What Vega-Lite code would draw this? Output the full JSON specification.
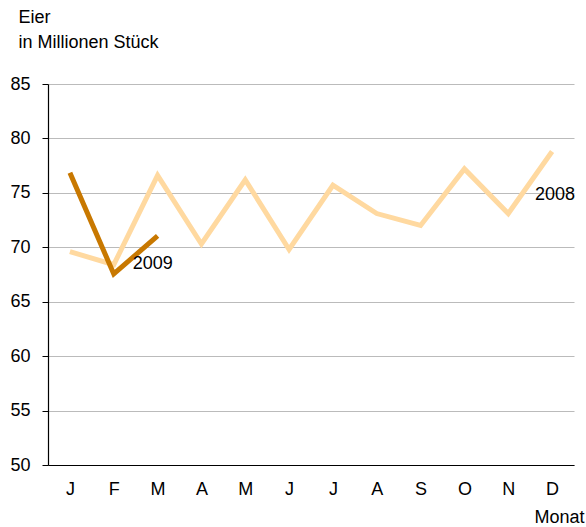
{
  "$schema": "https://vega.github.io/schema/vega-lite/v6.json",
  "width": 526,
  "height": 381,
  "autosize": {"type": "none"},
  "padding": {"left": 48, "top": 84, "right": 12, "bottom": 62},
  "background": "white",
  "config": {
    "view": {"stroke": null},
    "font": "Liberation Sans",
    "axis": {"labelFont": "Liberation Sans", "titleFont": "Liberation Sans", "labelColor": "black", "titleColor": "black", "labelFontSize": 18, "titleFontSize": 18, "titleFontWeight": "normal"}
  },
  "datasets": {
    "series": [
      {"month": 1, "value": 69.6, "year": "2008"},
      {"month": 2, "value": 68.4, "year": "2008"},
      {"month": 3, "value": 76.6, "year": "2008"},
      {"month": 4, "value": 70.3, "year": "2008"},
      {"month": 5, "value": 76.2, "year": "2008"},
      {"month": 6, "value": 69.8, "year": "2008"},
      {"month": 7, "value": 75.7, "year": "2008"},
      {"month": 8, "value": 73.1, "year": "2008"},
      {"month": 9, "value": 72.0, "year": "2008"},
      {"month": 10, "value": 77.2, "year": "2008"},
      {"month": 11, "value": 73.1, "year": "2008"},
      {"month": 12, "value": 78.8, "year": "2008"},
      {"month": 1, "value": 76.85, "year": "2009"},
      {"month": 2, "value": 67.55, "year": "2009"},
      {"month": 3, "value": 71.05, "year": "2009"}
    ],
    "labels": [
      {"month": 12, "value": 74.8, "year": "2008", "label": "2008"},
      {"month": 2, "value": 68.45, "year": "2009", "label": "2009"}
    ]
  },
  "layer": [
    {
      "data": {"name": "series"},
      "mark": {"type": "line", "strokeWidth": 5, "strokeJoin": "miter", "strokeCap": "butt"},
      "encoding": {
        "x": {
          "field": "month", "type": "quantitative",
          "scale": {"domain": [0.5, 12.5], "nice": false, "zero": false},
          "axis": {
            "values": [1,2,3,4,5,6,7,8,9,10,11,12],
            "labelExpr": "['J','F','M','A','M','J','J','A','S','O','N','D'][datum.value-1]",
            "grid": false, "ticks": false, "domainColor": "black", "domainWidth": 1.2,
            "labelPadding": 15, "labelFlush": false,
            "title": "Monat", "titleAlign": "right", "titleX": 536, "titleY": 57, "titleBaseline": "alphabetic"
          }
        },
        "y": {
          "field": "value", "type": "quantitative",
          "scale": {"domain": [50, 85], "nice": false, "zero": false},
          "axis": {
            "values": [50,55,60,65,70,75,80,85],
            "grid": true, "gridColor": "#BBBBBB", "gridWidth": 1.2,
            "domainColor": "black", "domainWidth": 1.2,
            "tickColor": "black", "tickSize": 6, "labelPadding": 12,
            "title": ["Eier", "in Millionen Stück"], "titleAngle": 0, "titleAlign": "left",
            "titleX": -30, "titleY": -76, "titleBaseline": "top", "titleLineHeight": 25
          }
        },
        "color": {
          "field": "year", "type": "nominal",
          "scale": {"domain": ["2008", "2009"], "range": ["#FFD9A0", "#C87800"]},
          "legend": null
        },
        "order": {"field": "month", "type": "quantitative"}
      }
    },
    {
      "data": {"name": "labels"},
      "transform": [{"filter": "datum.year == '2008'"}],
      "mark": {"type": "text", "fontSize": 18, "font": "Liberation Sans", "color": "black", "baseline": "middle", "align": "right", "dx": 23},
      "encoding": {
        "x": {"field": "month", "type": "quantitative"},
        "y": {"field": "value", "type": "quantitative"},
        "text": {"field": "label"}
      }
    },
    {
      "data": {"name": "labels"},
      "transform": [{"filter": "datum.year == '2009'"}],
      "mark": {"type": "text", "fontSize": 18, "font": "Liberation Sans", "color": "black", "baseline": "middle", "align": "left", "dx": 19},
      "encoding": {
        "x": {"field": "month", "type": "quantitative"},
        "y": {"field": "value", "type": "quantitative"},
        "text": {"field": "label"}
      }
    }
  ]
}
